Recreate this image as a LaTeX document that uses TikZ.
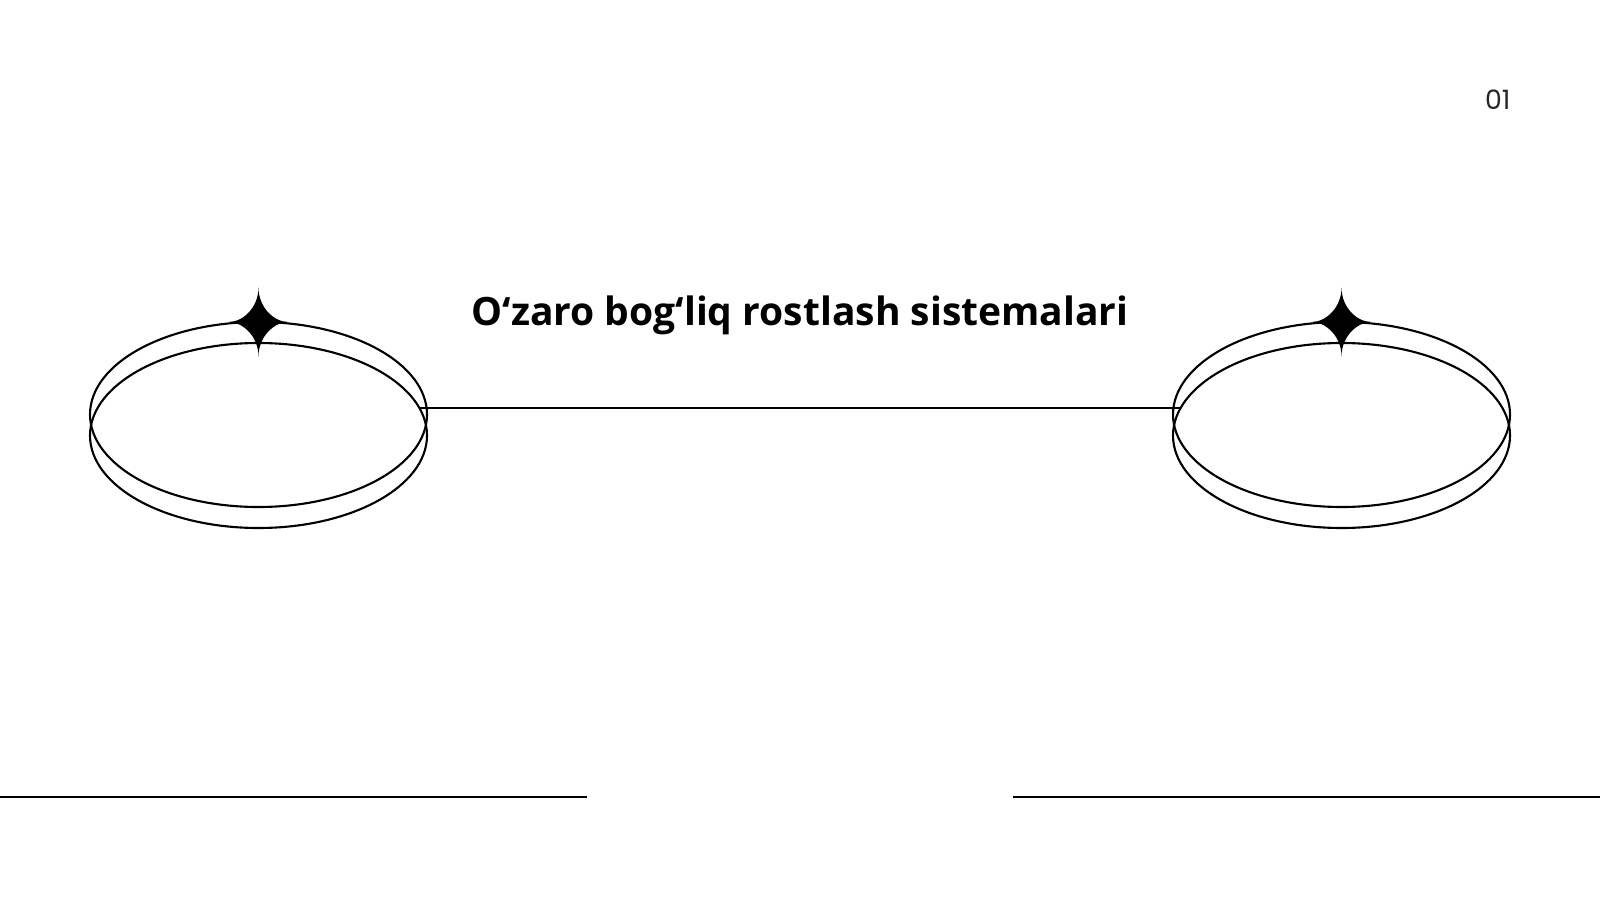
\documentclass[tikz,border=0pt]{standalone}
\usepackage{fontspec}
\setmainfont{Open Sans}
\newfontfamily\numfont{Poppins}
\usetikzlibrary{shapes.geometric,positioning,calc}
\tikzstyle{ring} = [draw, ellipse, line width=0.6pt, minimum width=3.37cm, minimum height=1.85cm, inner sep=0pt, outer sep=0pt]
\tikzstyle{rule} = [line width=0.7pt]

\begin{document}
\begin{tikzpicture}
\tikzset{sparkle/.style={fill=black,draw=none}}
\useasboundingbox (0,0) rectangle (16,9);

% two rings, each made of two ellipses
\node[ring] (upL) at (2.585,4.855) {};
\node[ring] (lowL) at (2.585,4.645) {};
\node[ring] (upR) at (13.415,4.855) {};
\node[ring] (lowR) at (13.415,4.645) {};

\coordinate (jL) at ($(lowL.center)+(1.609,0.275)$);
\coordinate (jR) at ($(lowR.center)+(-1.609,0.275)$);
\draw[line width=0.6pt] (jL) -- (jR);

% stars on top
\foreach \c in {upL,upR} {
\fill[sparkle] ($(\c.north)+(0,0.345)$) .. controls ($(\c.north)+(0,0.15)$) and ($(\c.north)+(0.15,0)$) .. ($(\c.north)+(0.3,0)$)
 .. controls ($(\c.north)+(0.15,0)$) and ($(\c.north)+(0,-0.15)$) .. ($(\c.north)+(0,-0.345)$)
 .. controls ($(\c.north)+(0,-0.15)$) and ($(\c.north)+(-0.15,0)$) .. ($(\c.north)+(-0.3,0)$)
 .. controls ($(\c.north)+(-0.15,0)$) and ($(\c.north)+(0,0.15)$) .. cycle; }

\node[anchor=base, inner sep=0pt, font=\fontsize{11.1}{14}\selectfont\bfseries] (title) at (8,5.75) {O‘zaro bog‘liq rostlash sistemalari};
\node[anchor=base east, inner sep=0pt, text=black!85, font=\fontsize{7.6}{9}\selectfont\numfont] (num) at (15.11,7.9) {01};

% bottom rules
\coordinate (bl1) at (0,1.03);
\coordinate (bl2) at (5.87,1.03);
\coordinate (br1) at (10.13,1.03);
\coordinate (br2) at (16,1.03);
\draw[rule] (bl1) -- (bl2);
\draw[rule] (br1) -- (br2);
\end{tikzpicture}
\end{document}
